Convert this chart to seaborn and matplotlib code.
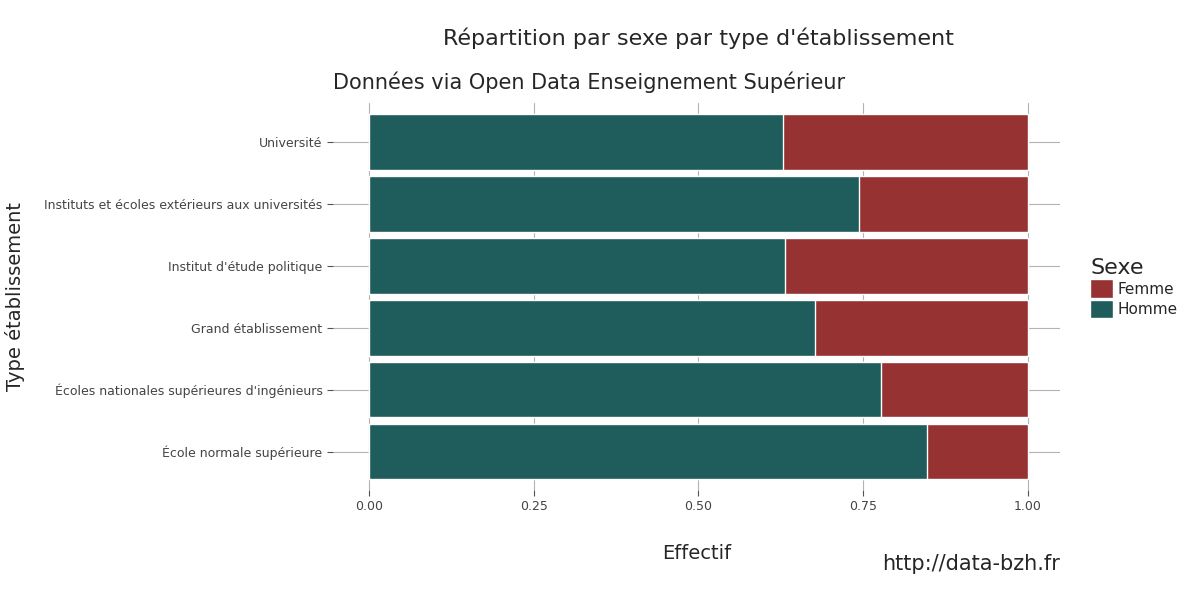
import matplotlib
matplotlib.use("Agg")
import matplotlib.pyplot as plt
import seaborn as sns
import pandas as pd
from matplotlib.patches import Patch

types = ["Université", "Instituts et écoles extérieurs aux universités",
         "Institut d'étude politique", "Grand établissement",
         "Écoles nationales supérieures d'ingénieurs", "École normale supérieure"]
homme = [0.628, 0.744, 0.631, 0.677, 0.777, 0.847]
femme = [1 - h for h in homme]
ticks = [0.0, 0.25, 0.5, 0.75, 1.0]
tick_labels = ["0.00", "0.25", "0.50", "0.75", "1.00"]

col_h = "#1f5c5c"
col_f = "#963232"

sns.set_style("white")
plt.rcParams['font.family'] = ['DejaVu Sans']

df = pd.DataFrame({"type": types, "homme": homme, "total": [h + f for h, f in zip(homme, femme)]})

fig = plt.figure(figsize=(12, 6), dpi=100)
ax = fig.add_axes([0.2775, 0.1833, 0.6058, 0.6447])
ax.set_axisbelow(True)
sns.barplot(data=df, x="total", y="type", orient="h", color=col_f, width=0.9,
            saturation=1, ax=ax, zorder=2)
sns.barplot(data=df, x="homme", y="type", orient="h", color=col_h, width=0.9,
            saturation=1, ax=ax, zorder=3)

ax.set_xlim(-0.055, 1.049)
ax.set_ylim(5.62, -0.62)
ax.set_xticks(ticks)
ax.set_xticklabels(tick_labels)
ax.grid(True, color="#b3b3b3", linewidth=0.8)
for s in ax.spines.values():
    s.set_visible(False)
ax.tick_params(axis="both", length=4, color="#555555", labelsize=9, labelcolor="#444444", left=True, bottom=True)
ax.set_xlabel("Effectif", fontsize=14, labelpad=22)
ax.set_ylabel("Type établissement", fontsize=14, labelpad=14)
ax.set_title("Données via Open Data Enseignement Supérieur", fontsize=15, loc="left", x=-0.0, pad=10)
fig.text(0.582, 0.925, "Répartition par sexe par type d'établissement", fontsize=16, ha="center")
fig.text(0.8833, 0.05, "http://data-bzh.fr", fontsize=15, ha="right")

handles = [Patch(facecolor=col_f, label="Femme"), Patch(facecolor=col_h, label="Homme")]
leg = fig.legend(handles=handles, title="Sexe", loc="center left", bbox_to_anchor=(0.897, 0.52),
                 frameon=False, fontsize=11, title_fontsize=16, handlelength=1.5, handleheight=1.5,
                 labelspacing=0.1, handletextpad=0.3)
leg._legend_box.align = "left"

fig.savefig("out.png", dpi=100)
